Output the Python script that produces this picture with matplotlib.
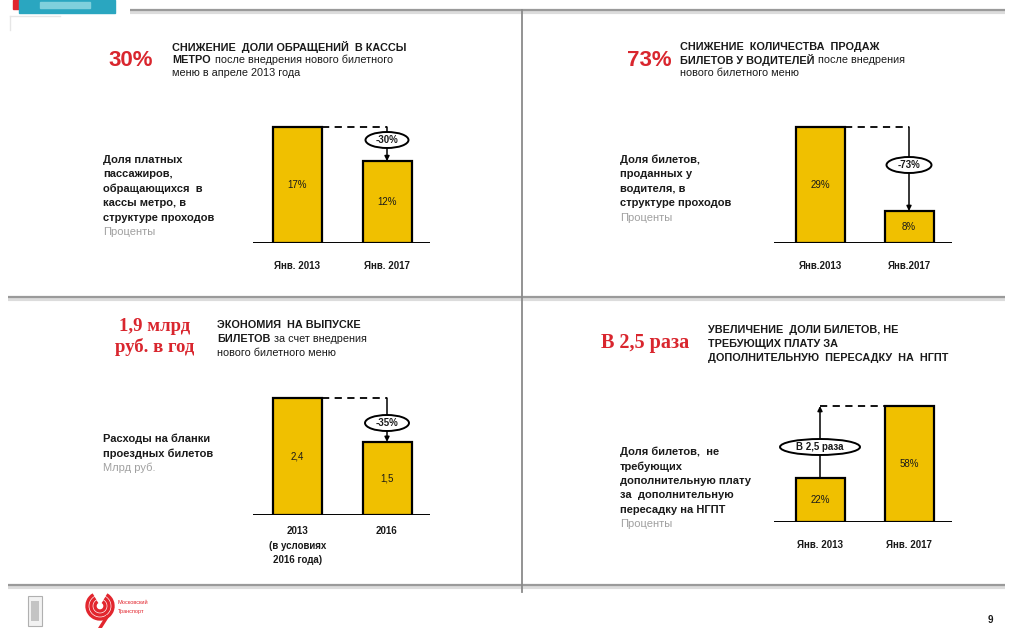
import matplotlib
matplotlib.use("Agg")
import matplotlib.pyplot as plt
from matplotlib.patches import Ellipse, Rectangle, Arc

plt.rcParams['font.family'] = ['Liberation Sans', 'DejaVu Sans']

# ---------------- data ----------------
p1_categories = ["Янв. 2013", "Янв. 2017"]
p1_values = [17, 12]
p1_value_labels = ["17%", "12%"]
p1_change = "-30%"

p2_categories = ["Янв.2013", "Янв.2017"]
p2_values = [29, 8]
p2_value_labels = ["29%", "8%"]
p2_change = "-73%"

p3_categories = ["2013\n(в условиях\n2016 года)", "2016"]
p3_values = [2.4, 1.5]
p3_value_labels = ["2,4", "1,5"]
p3_change = "-35%"

p4_categories = ["Янв. 2013", "Янв. 2017"]
p4_values = [22, 58]
p4_value_labels = ["22%", "58%"]
p4_change = "В 2,5 раза"

W, H = 1009, 628
GOLD = '#F0C000'
RED = '#D9262E'
DARK = '#1a1a1a'
GRAY = '#a0a0a0'

fig = plt.figure(figsize=(W / 100, H / 100), dpi=100)
bg = fig.add_axes([0, 0, 1, 1])
bg.set_xlim(0, W)
bg.set_ylim(H, 0)
bg.axis('off')
renderer = fig.canvas.get_renderer()

# ---------------- frame lines ----------------
def hline(y, x0, x1):
    bg.plot([x0, x1], [y + 2, y + 2], color='#dcdcdc', lw=3, solid_capstyle='butt', zorder=1)
    bg.plot([x0, x1], [y, y], color='#9a9a9a', lw=1.6, solid_capstyle='butt', zorder=2)

hline(10, 130, 1005)
hline(297, 8, 1005)
hline(585, 8, 1005)
bg.plot([522, 522], [10, 592], color='#8a8a8a', lw=1.3, zorder=2)
bg.plot([10, 10], [16, 30], color='#e6e6e6', lw=1, zorder=1)
bg.plot([10, 60], [16, 16], color='#e6e6e6', lw=1, zorder=1)

# top-left logo
bg.add_patch(Rectangle((13, 0), 6, 9, color='#e2262e', zorder=3))
bg.add_patch(Rectangle((19, 0), 96, 13, color='#2aa6c0', zorder=3))
bg.add_patch(Rectangle((40, 2), 50, 6, color='#7fd0dc', zorder=3))

# bottom logos
bg.add_patch(Rectangle((28, 596), 14, 30, fc='#f2f2f2', ec='#b0b0b0', lw=0.8, zorder=3))
bg.add_patch(Rectangle((31, 601), 8, 20, fc='#c4c4c4', ec='none', zorder=3))
for r in (13, 9, 5):
    bg.add_patch(Arc((100, 606), 2 * r, 2 * r, theta1=-60, theta2=240, color='#e2262e', lw=2.4, zorder=3))
bg.plot([107, 100], [617, 628], color='#e2262e', lw=2.4, zorder=3)
bg.text(118, 603, "Московский", fontsize=4, color='#e2262e', va='center', ha='left')
bg.text(118, 611, "Транспорт", fontsize=4, color='#e2262e', va='center', ha='left')
bg.text(990, 620, "9", fontsize=7, fontweight='bold', color=DARK, va='center', ha='center')

# ---------------- header helpers ----------------
def rich(x, y, parts, fs=7.8):
    cur = x
    for txt, wt in parts:
        t = bg.text(cur, y, txt, fontsize=fs, fontweight=wt, va='center', ha='left', color=DARK)
        bb = t.get_window_extent(renderer=renderer)
        cur += bb.width + 4

def title(x, ys, lines):
    for y, parts in zip(ys, lines):
        rich(x, y, parts)

# Panel 1 header
bg.text(108, 60, "30%", fontsize=16, fontweight='bold', color=RED, va='center', ha='left')
title(172, [47, 60, 73], [
    [("СНИЖЕНИЕ  ДОЛИ ОБРАЩЕНИЙ  В КАССЫ", 'bold')],
    [("МЕТРО", 'bold'), ("после внедрения нового билетного", 'normal')],
    [("меню в апреле 2013 года", 'normal')],
])
# Panel 2 header
bg.text(627, 60, "73%", fontsize=16, fontweight='bold', color=RED, va='center', ha='left')
title(680, [47, 60, 73], [
    [("СНИЖЕНИЕ  КОЛИЧЕСТВА  ПРОДАЖ", 'bold')],
    [("БИЛЕТОВ У ВОДИТЕЛЕЙ", 'bold'), ("после внедрения", 'normal')],
    [("нового билетного меню", 'normal')],
])
# Panel 3 header
bg.text(155, 337, "1,9 млрд\nруб. в год", fontsize=13.5, fontweight='bold', color=RED,
        va='center', ha='center', family='Liberation Serif', linespacing=1.15)
title(217, [325, 339, 353], [
    [("ЭКОНОМИЯ  НА ВЫПУСКЕ", 'bold')],
    [("БИЛЕТОВ", 'bold'), ("за счет внедрения", 'normal')],
    [("нового билетного меню", 'normal')],
])
# Panel 4 header
bg.text(601, 343, "В 2,5 раза", fontsize=14.5, fontweight='bold', color=RED,
        va='center', ha='left', family='Liberation Serif')
title(708, [330, 344, 358], [
    [("УВЕЛИЧЕНИЕ  ДОЛИ БИЛЕТОВ, НЕ", 'bold')],
    [("ТРЕБУЮЩИХ ПЛАТУ ЗА", 'bold')],
    [("ДОПОЛНИТЕЛЬНУЮ  ПЕРЕСАДКУ  НА  НГПТ", 'bold')],
])

# ---------------- descriptions ----------------
def desc(x, y_top, lines, unit):
    step = 14.4
    for i, ln in enumerate(lines):
        bg.text(x, y_top + i * step, ln, fontsize=8, fontweight='bold', color=DARK, va='center', ha='left')
    bg.text(x, y_top + len(lines) * step, unit, fontsize=8, color=GRAY, va='center', ha='left')

desc(103, 160, ["Доля платных", "пассажиров,", "обращающихся  в", "кассы метро, в", "структуре проходов"], "Проценты")
desc(620, 160, ["Доля билетов,", "проданных у", "водителя, в", "структуре проходов"], "Проценты")
desc(103, 439, ["Расходы на бланки", "проездных билетов"], "Млрд руб.")
desc(620, 452, ["Доля билетов,  не", "требующих", "дополнительную плату", "за  дополнительную", "пересадку на НГПТ"], "Проценты")

# ---------------- bar panels ----------------
def bar_axes(x0, x1, c1, c2, base, top, ppu):
    ax = fig.add_axes([x0 / W, (H - base) / H, (x1 - x0) / W, (base - top) / H])
    sp = c2 - c1
    ax.set_xlim((x0 - c1) / sp, 1 + (x1 - c2) / sp)
    ax.set_ylim(0, (base - top) / ppu)
    ax.patch.set_alpha(0)
    for s in ax.spines.values():
        s.set_visible(False)
    ax.set_yticks([])
    return ax, sp


def panel(ax, sp, ppu, cats, vals, vlabels, change, ell_w, ell_y, mode, pad, lsp=1.2):
    bw = 49 / sp
    ax.bar([0, 1], vals, width=bw, color=GOLD, edgecolor='black', linewidth=1.6, zorder=3)
    ax.axhline(0, color='black', lw=1.4, zorder=4)
    for i, (v, l) in enumerate(zip(vals, vlabels)):
        ax.text(i, v / 2, l, ha='center', va='center', fontsize=7, color=DARK, zorder=5)
    ax.set_xticks([0, 1])
    ax.set_xticklabels(cats, fontsize=7, fontweight='bold', color=DARK)
    for lb in ax.get_xticklabels():
        lb.set_linespacing(lsp)
    ax.tick_params(axis='x', length=0, pad=pad)
    eh = 16 / ppu
    ew = ell_w / sp
    dash = (0, (4, 3))
    arrow = dict(arrowstyle='-|>', lw=1.1, color='black', mutation_scale=7, shrinkA=0, shrinkB=0)
    if mode == 'down':
        ax.plot([bw / 2, 1], [vals[0], vals[0]], ls=dash, color='black', lw=1.3, zorder=4, clip_on=False)
        ax.annotate('', xy=(1, vals[1]), xytext=(1, vals[0]), arrowprops=arrow, zorder=4,
                    annotation_clip=False)
        cx = 1
    else:
        ax.plot([0, 1 - bw / 2], [vals[1], vals[1]], ls=dash, color='black', lw=1.3, zorder=4, clip_on=False)
        ax.annotate('', xy=(0, vals[1]), xytext=(0, vals[0]), arrowprops=arrow, zorder=4,
                    annotation_clip=False)
        cx = 0
    ax.add_patch(Ellipse((cx, ell_y), ew, eh, fc='white', ec='black', lw=1.4, zorder=6, clip_on=False))
    ax.text(cx, ell_y, change, ha='center', va='center', fontsize=7, fontweight='bold', color=DARK, zorder=7)


ppu1 = 116 / 17
ax1, sp1 = bar_axes(253, 430, 297.5, 387, 243, 110, ppu1)
panel(ax1, sp1, ppu1, p1_categories, p1_values, p1_value_labels, p1_change, 43,
      (243 - 140) / ppu1, 'down', 13)

ppu2 = 116 / 29
ax2, sp2 = bar_axes(774, 952, 820, 909, 243, 110, ppu2)
panel(ax2, sp2, ppu2, p2_categories, p2_values, p2_value_labels, p2_change, 45,
      (243 - 165) / ppu2, 'down', 13)

ppu3 = 117 / 2.4
ax3, sp3 = bar_axes(253, 430, 297.5, 387, 515, 385, ppu3)
panel(ax3, sp3, ppu3, p3_categories, p3_values, p3_value_labels, p3_change, 44,
      (515 - 423) / ppu3, 'down', 8, lsp=1.55)

ppu4 = 116 / 58
ax4, sp4 = bar_axes(774, 952, 820, 909, 522, 390, ppu4)
panel(ax4, sp4, ppu4, p4_categories, p4_values, p4_value_labels, p4_change, 80,
      (522 - 447) / ppu4, 'up', 13)

fig.savefig("out.png", dpi=100)
